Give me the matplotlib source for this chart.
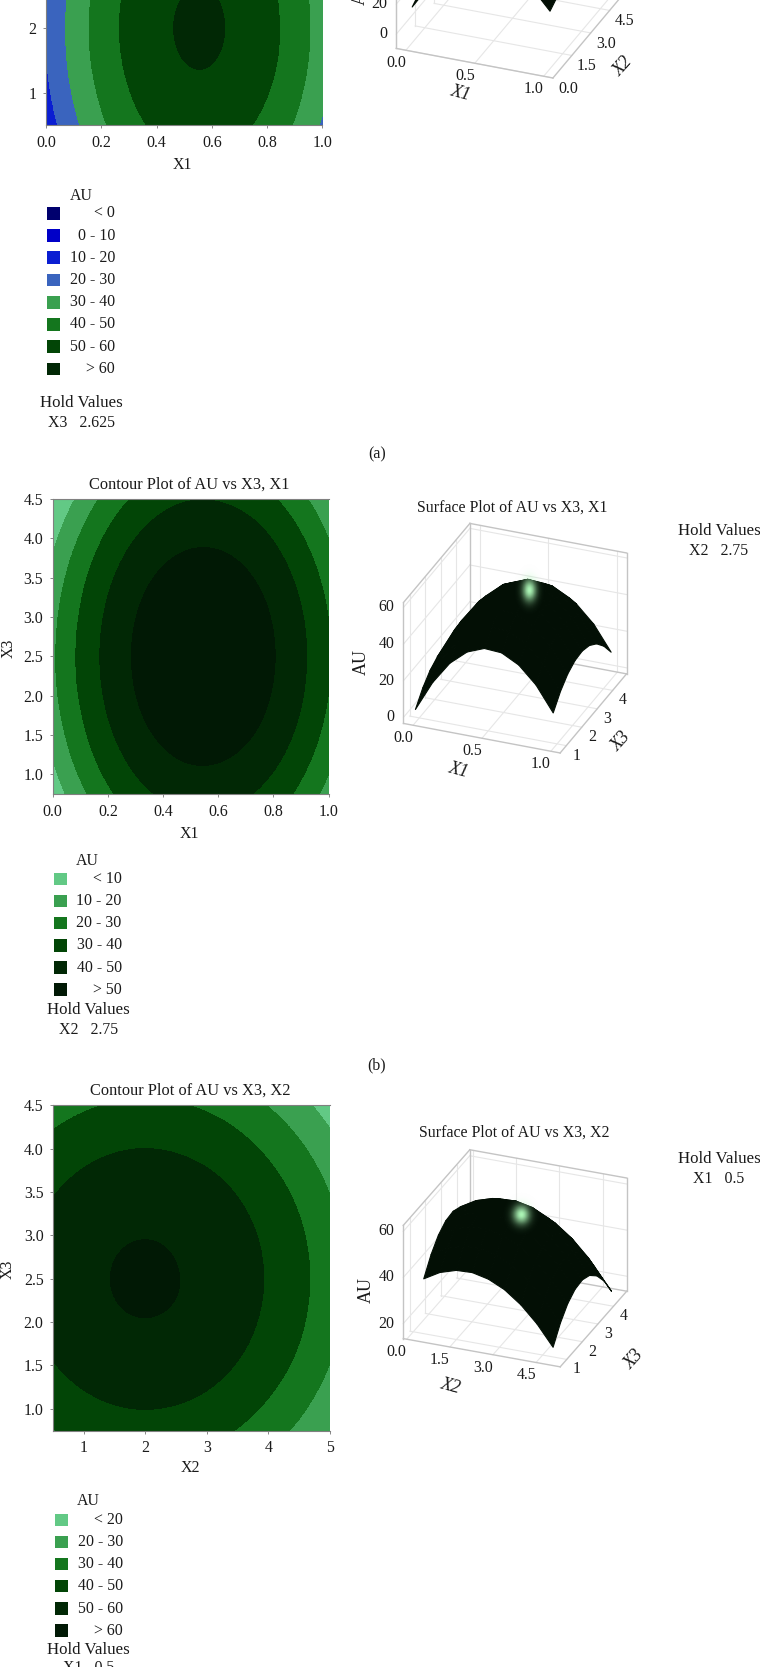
#!/usr/bin/python3

""" contour and surface plots of AU against X1, X2, X3 """

import numpy as np
import matplotlib
matplotlib.use("Agg")
import matplotlib.pyplot as plt
from matplotlib.colors import ListedColormap, BoundaryNorm
from matplotlib.patches import Rectangle
from mpl_toolkits.mplot3d import proj3d


WIDTH = 760.
HEIGHT = 1667.
SERIF = "Liberation Serif"
FONT_SIZE = 11.4
NAME_SIZE = 13
BOX_LINE = "#c4c4c4"
GRID_LINE = "#e6e6e6"
SURFACE_COLOR = "#030f05"

# values, rows go along the second factor
# first and last row and column lie just outside the plotted range
X1_VALUES = [-0.125, 0., 0.125, 0.25, 0.375, 0.5, 0.625, 0.75, 0.875, 1., 1.125]
X2_VALUES = [-0.06, 0.5, 1.06, 1.63, 2.19, 2.75, 3.31, 3.88, 4.44, 5., 5.56]
X3_VALUES = [0.28, 0.75, 1.22, 1.69, 2.16, 2.63, 3.09, 3.56, 4.03, 4.5, 4.97]

AU_X2_X1 = [
    [-11.6, 8.8, 25.1, 37.2, 45.2, 49.1, 48.8, 44.5, 36.0, 23.3, 6.6],
    [-6.1, 14.3, 30.6, 42.7, 50.7, 54.6, 54.3, 49.9, 41.4, 28.8, 12.1],
    [-2.3, 18.1, 34.3, 46.4, 54.4, 58.3, 58.1, 53.7, 45.2, 32.6, 15.8],
    [-0.3, 20.1, 36.4, 48.5, 56.5, 60.4, 60.1, 55.8, 47.3, 34.6, 17.9],
    [0.0, 20.4, 36.6, 48.8, 56.8, 60.7, 60.4, 56.0, 47.5, 34.9, 18.2],
    [-1.4, 18.9, 35.2, 47.3, 55.3, 59.2, 59.0, 54.6, 46.1, 33.5, 16.7],
    [-4.6, 15.8, 32.0, 44.2, 52.2, 56.0, 55.8, 51.4, 42.9, 30.3, 13.5],
    [-9.6, 10.8, 27.0, 39.2, 47.2, 51.0, 50.8, 46.4, 37.9, 25.3, 8.5],
    [-16.3, 4.1, 20.4, 32.5, 40.5, 44.4, 44.1, 39.8, 31.3, 18.6, 1.9],
    [-24.6, -4.3, 12.0, 24.1, 32.1, 36.0, 35.8, 31.4, 22.9, 10.3, -6.5],
    [-34.7, -14.4, 1.9, 14.0, 22.0, 25.9, 25.7, 21.3, 12.8, 0.2, -16.6],
]
AU_X3_X1 = [
    [-26.1, -5.3, 11.2, 23.5, 31.4, 35.1, 34.5, 29.7, 20.5, 7.0, -10.7],
    [-17.0, 3.8, 20.3, 32.6, 40.5, 44.2, 43.6, 38.7, 29.6, 16.1, -1.6],
    [-10.1, 10.7, 27.3, 39.5, 47.5, 51.2, 50.5, 45.7, 36.5, 23.1, 5.3],
    [-5.3, 15.5, 32.0, 44.3, 52.3, 55.9, 55.3, 50.5, 41.3, 27.9, 10.1],
    [-2.7, 18.2, 34.7, 46.9, 54.9, 58.6, 58.0, 53.1, 43.9, 30.5, 12.8],
    [-2.2, 18.6, 35.2, 47.4, 55.4, 59.1, 58.4, 53.6, 44.4, 31.0, 13.2],
    [-3.8, 17.0, 33.5, 45.8, 53.8, 57.4, 56.8, 52.0, 42.8, 29.4, 11.6],
    [-7.6, 13.2, 29.8, 42.0, 50.0, 53.7, 53.1, 48.2, 39.0, 25.6, 7.8],
    [-13.5, 7.3, 23.8, 36.1, 44.0, 47.7, 47.1, 42.3, 33.1, 19.6, 1.9],
    [-21.6, -0.8, 15.8, 28.0, 36.0, 39.7, 39.0, 34.2, 25.0, 11.6, -6.2],
    [-31.8, -11.0, 5.5, 17.8, 25.7, 29.4, 28.8, 23.9, 14.8, 1.3, -16.4],
]
AU_X3_X2 = [
    [24.7, 30.5, 34.4, 36.6, 36.9, 35.4, 32.0, 26.7, 19.7, 10.8, 0.2],
    [33.7, 39.5, 43.5, 45.7, 46.0, 44.4, 41.1, 35.8, 28.8, 19.9, 9.2],
    [40.7, 46.4, 50.4, 52.6, 52.9, 51.4, 48.0, 42.7, 35.7, 26.8, 16.2],
    [45.4, 51.2, 55.2, 57.4, 57.7, 56.1, 52.8, 47.5, 40.5, 31.6, 20.9],
    [48.1, 53.8, 57.8, 60.0, 60.3, 58.8, 55.4, 50.1, 43.1, 34.2, 23.6],
    [48.5, 54.3, 58.3, 60.5, 60.8, 59.2, 55.9, 50.6, 43.6, 34.7, 24.0],
    [46.9, 52.7, 56.7, 58.9, 59.2, 57.6, 54.3, 49.0, 42.0, 33.1, 22.4],
    [43.2, 48.9, 52.9, 55.1, 55.4, 53.9, 50.5, 45.2, 38.2, 29.3, 18.7],
    [37.2, 43.0, 47.0, 49.2, 49.5, 47.9, 44.6, 39.3, 32.3, 23.4, 12.7],
    [29.2, 35.0, 38.9, 41.1, 41.4, 39.9, 36.5, 31.2, 24.2, 15.4, 4.7],
    [19.0, 24.8, 28.7, 30.9, 31.2, 29.7, 26.3, 21.0, 14.0, 5.1, -5.5],
]

LEVELS_A = [-100, 0, 10, 20, 30, 40, 50, 60, 100]
LEVELS_B = [-100, 10, 20, 30, 40, 50, 100]
LEVELS_C = [-100, 20, 30, 40, 50, 60, 100]
COLORS_A = ["#00006e", "#0000c8", "#0a1ed2", "#3a64be", "#3aa050",
            "#14761e", "#024506", "#012805"]
COLORS_B = ["#62c985", "#3aa050", "#14761e", "#024506", "#012805", "#011905"]
COLORS_C = COLORS_B
NAMES_A = ["< 0", "0 - 10", "10 - 20", "20 - 30", "30 - 40", "40 - 50",
           "50 - 60", "> 60"]
NAMES_B = ["< 10", "10 - 20", "20 - 30", "30 - 40", "40 - 50", "> 50"]
NAMES_C = ["< 20", "20 - 30", "30 - 40", "40 - 50", "50 - 60", "> 60"]
LEGEND_Y_A = [213.3, 235.7, 257.7, 280., 302.3, 324.3, 346.7, 369.]
LEGEND_Y_B = [879., 900.9, 923., 945.3, 967.5, 989.7]
LEGEND_Y_C = [1519.9, 1542., 1564., 1586.1, 1608.6, 1630.7]

X1_TICKS = [0., 0.2, 0.4, 0.6, 0.8, 1.]
X1_TICKS_3D = [0., 0.5, 1.]
X2_TICKS = [1, 2, 3, 4, 5]
X2_TICKS_3D = [0., 1.5, 3., 4.5]
X3_TICKS = [1., 1.5, 2., 2.5, 3., 3.5, 4., 4.5]
X3_TICKS_3D = [1, 2, 3, 4]


def put_text(figure, x_pixel, y_pixel, text, **options):
    """ write text at a position given in pixels from the top left """
    options.setdefault("ha", "center")
    options.setdefault("va", "center")
    options.setdefault("fontsize", FONT_SIZE)
    options.setdefault("color", "#1a1a1a")
    figure.text(x_pixel / WIDTH, 1. - y_pixel / HEIGHT, text, **options)


def pixel_axes(figure, left, right, top, bottom, **options):
    """ add axes whose box is given in pixels from the top left """
    return figure.add_axes([left / WIDTH, 1. - bottom / HEIGHT,
                            (right - left) / WIDTH, (bottom - top) / HEIGHT],
                           **options)


def draw_contour(figure, box, x_values, y_values, values, levels, colors,
                 x_ticks, y_ticks, x_name, y_name):
    """ draw one filled contour panel """
    axes = pixel_axes(figure, *box)
    half_x = (x_values[-1] - x_values[0]) / (len(x_values) - 1) / 2.
    half_y = (y_values[-1] - y_values[0]) / (len(y_values) - 1) / 2.
    axes.imshow(values, origin="lower", aspect="auto",
                extent=(x_values[0] - half_x, x_values[-1] + half_x,
                        y_values[0] - half_y, y_values[-1] + half_y),
                cmap=ListedColormap(colors),
                norm=BoundaryNorm(levels, len(colors)),
                interpolation="catrom", interpolation_stage="data")
    axes.set_xlim(x_values[1], x_values[-2])
    axes.set_ylim(y_values[1], y_values[-2])
    axes.set_xticks(x_ticks)
    axes.set_yticks(y_ticks)
    if x_name == "X1":
        axes.set_xticklabels(["%.1f" % tick for tick in x_ticks])
    if y_name == "X3":
        axes.set_yticklabels(["%.1f" % tick for tick in y_ticks])
    axes.tick_params(length=2.5, width=0.7, color="#888888", pad=4.5,
                     labelsize=FONT_SIZE, labelcolor="#1a1a1a")
    axes.spines["right"].set_visible(False)
    for name in ("top", "left", "bottom"):
        axes.spines[name].set_color("#808080")
        axes.spines[name].set_linewidth(0.8)
    for label in axes.get_xticklabels() + axes.get_yticklabels():
        label.set_family(SERIF)
    return axes


def draw_legend(figure, left, text_right, y_list, names, colors):
    """ draw the colour squares and their ranges """
    for y_pixel, name, color in zip(y_list, names, colors):
        figure.add_artist(Rectangle(
            (left / WIDTH, 1. - (y_pixel + 6.3) / HEIGHT),
            12.8 / WIDTH, 12.6 / HEIGHT,
            transform=figure.transFigure, facecolor=color, edgecolor="none"))
        put_text(figure, text_right, y_pixel, name, ha="right", family=SERIF)


def tick_label(axes, point, offset, text, **options):
    """ label a 3d point, offset in pixels to the right and downwards """
    x_2d, y_2d, _ = proj3d.proj_transform(*point, axes.get_proj())
    axes.annotate(text, xy=(x_2d, y_2d),
                  xytext=(offset[0] * 0.72, -offset[1] * 0.72),
                  textcoords="offset points", annotation_clip=False,
                  family=SERIF, fontsize=FONT_SIZE, color="#1a1a1a",
                  va="center", **options)


def draw_surface(figure, centre, view, x_values, y_values, values, limits,
                 x_ticks, y_ticks, z_ticks, y_offset):
    """ draw one surface panel with its box, grid and tick labels """
    size, elevation, box_height = view
    left = centre[0] - 0.5135 * size
    top = centre[1] - (1. - 0.5135) * size
    axes = pixel_axes(figure, left, left + size, top, top + size,
                      projection="3d", proj_type="ortho",
                      computed_zorder=False)
    axes.set_box_aspect((168.6, 179.6, box_height))
    axes.view_init(elev=elevation, azim=-68.3)
    x_min, x_max, y_min, y_max, z_min, z_max = limits
    axes.set_xlim(x_min, x_max, view_margin=0)
    axes.set_ylim(y_min, y_max, view_margin=0)
    axes.set_zlim(z_min, z_max, view_margin=0)
    axes.set_axis_off()
    axes.patch.set_alpha(0.)

    grid = dict(color=GRID_LINE, linewidth=0.8, zorder=1)
    for tick in x_ticks:
        axes.plot([tick, tick], [y_min, y_max], [z_min, z_min], **grid)
        axes.plot([tick, tick], [y_max, y_max], [z_min, z_max], **grid)
    for tick in y_ticks:
        axes.plot([x_min, x_max], [tick, tick], [z_min, z_min], **grid)
        axes.plot([x_min, x_min], [tick, tick], [z_min, z_max], **grid)
    for tick in z_ticks:
        axes.plot([x_min, x_min], [y_min, y_max], [tick, tick], **grid)
        axes.plot([x_min, x_max], [y_max, y_max], [tick, tick], **grid)

    edge = dict(color=BOX_LINE, linewidth=1.0, zorder=2)
    axes.plot([x_min, x_max], [y_min, y_min], [z_min, z_min], **edge)
    axes.plot([x_max, x_max], [y_min, y_max], [z_min, z_min], **edge)
    axes.plot([x_min, x_min], [y_min, y_min], [z_min, z_max], **edge)
    axes.plot([x_min, x_min], [y_max, y_max], [z_min, z_max], **edge)
    axes.plot([x_max, x_max], [y_max, y_max], [z_min, z_max], **edge)
    axes.plot([x_min, x_min], [y_min, y_max], [z_max, z_max], **edge)
    axes.plot([x_min, x_max], [y_max, y_max], [z_max, z_max], **edge)
    axes.plot([x_max, x_max], [y_max, y_max], [z_min, z_min], **edge)
    axes.plot([x_min, x_max], [y_max, y_max], [z_min, z_min], **edge)

    x_grid, y_grid = np.meshgrid(x_values[1:-1], y_values[1:-1])
    heights = np.array(values)[1:-1, 1:-1]
    axes.plot_surface(x_grid, y_grid, heights, rstride=1, cstride=1,
                      color=SURFACE_COLOR, edgecolor=SURFACE_COLOR,
                      linewidth=0.8, shade=False, zorder=3)

    for tick in x_ticks:
        tick_label(axes, (tick, y_min, z_min), (-10, 13), "%.1f" % tick,
                   ha="center")
    for tick in y_ticks:
        text = "%g" % tick if y_offset[0] < 12 else "%.1f" % tick
        tick_label(axes, (x_max, tick, z_min), y_offset, text, ha="center")
    for tick in z_ticks:
        tick_label(axes, (x_min, y_min, tick), (-9, 0), "%d" % tick,
                   ha="right")
    return axes


def draw_glow(figure, x_pixel, y_pixel, x_width, y_width):
    """ soft light spot that sits on top of a surface """
    axes = pixel_axes(figure, x_pixel - 3. * x_width, x_pixel + 3. * x_width,
                      y_pixel - 3. * y_width, y_pixel + 3. * y_width)
    axes.set_axis_off()
    x_grid, y_grid = np.meshgrid(np.linspace(-3., 3., 60),
                                 np.linspace(-3., 3., 60))
    image = np.zeros((60, 60, 4))
    image[:, :, 0] = 0.68
    image[:, :, 1] = 0.97
    image[:, :, 2] = 0.72
    image[:, :, 3] = np.exp(-(x_grid ** 2 + y_grid ** 2) * 0.8)
    axes.imshow(image, aspect="auto", interpolation="bilinear")


def put_hold(figure, x_pixel, y_first, y_second, value):
    """ the two lines that give the held factor """
    put_text(figure, x_pixel, y_first, "Hold Values", fontsize=12.2)
    put_text(figure, x_pixel, y_second, value)


def main():
    """ build the three rows and save them """
    plt.rcParams["font.family"] = [SERIF, "DejaVu Serif"]
    figure = plt.figure(figsize=(WIDTH / 100., HEIGHT / 100.), dpi=100,
                        facecolor="white")

    # row (a), its top runs off the page
    draw_contour(figure, (46., 322.3, -165., 125.), X1_VALUES, X2_VALUES,
                 np.array(AU_X2_X1), LEVELS_A, COLORS_A, X1_TICKS, [1, 2],
                 "X1", "X2")
    draw_surface(figure, (507.8, -36.8), (273.8, 28.3, 137.3), X1_VALUES,
                 X2_VALUES, AU_X2_X1, (-0.07, 1.067, 0., 5.27, -9.5, 71.),
                 X1_TICKS_3D, X2_TICKS_3D, [0, 20], (15, 11))
    put_text(figure, 182.7, 165., "X1")
    put_text(figure, 460.5, 93.3, "X1", style="italic", rotation=-15,
             fontsize=NAME_SIZE)
    put_text(figure, 623., 66.7, "X2", style="italic", rotation=48,
             fontsize=NAME_SIZE)
    put_text(figure, 360., -8., "AU", rotation=90, fontsize=NAME_SIZE)
    put_text(figure, 81.4, 195.7, "AU")
    draw_legend(figure, 47., 114.9, LEGEND_Y_A, NAMES_A, COLORS_A)
    put_hold(figure, 81.4, 402.7, 423.3, "X3   2.625")
    put_text(figure, 377., 454., "(a)")

    # row (b)
    draw_contour(figure, (52.8, 328.6, 499., 794.), X1_VALUES, X3_VALUES,
                 np.array(AU_X3_X1), LEVELS_B, COLORS_B, X1_TICKS, X3_TICKS,
                 "X1", "X3")
    draw_surface(figure, (515., 638.2), (273.8, 28.3, 137.3), X1_VALUES,
                 X3_VALUES, AU_X3_X1, (-0.07, 1.067, 0.6, 4.9, -3.3, 62.7),
                 X1_TICKS_3D, X3_TICKS_3D, [0, 20, 40, 60], (10, 10))
    draw_glow(figure, 529.3, 590., 6., 10.)
    put_text(figure, 189.5, 485., "Contour Plot of AU vs X3, X1", fontsize=11.8)
    put_text(figure, 512.3, 507.7, "Surface Plot of AU vs X3, X1", fontsize=11.4)
    put_text(figure, 189., 833.9, "X1")
    put_text(figure, 8.7, 648.3, "X3", rotation=90)
    put_text(figure, 458.3, 770., "X1", style="italic", rotation=-15,
             fontsize=NAME_SIZE)
    put_text(figure, 621., 741.7, "X3", style="italic", rotation=48,
             fontsize=NAME_SIZE)
    put_text(figure, 361.7, 661.7, "AU", rotation=90, fontsize=NAME_SIZE)
    put_text(figure, 87.7, 861., "AU")
    draw_legend(figure, 53.8, 121.7, LEGEND_Y_B, NAMES_B, COLORS_B)
    put_hold(figure, 88.7, 1010., 1030.2, "X2   2.75")
    put_hold(figure, 719., 530.8, 551., "X2   2.75")
    put_text(figure, 377., 1065., "(b)")

    # row (c)
    draw_contour(figure, (53.3, 329.6, 1105.3, 1430.5), X2_VALUES, X3_VALUES,
                 np.array(AU_X3_X2), LEVELS_C, COLORS_C, X2_TICKS, X3_TICKS,
                 "X2", "X3")
    draw_surface(figure, (515., 1258.3), (269.4, 26.9, 126.7), X2_VALUES,
                 X3_VALUES, AU_X3_X2, (-0.12, 5.34, 0.58, 4.85, 13.5, 62.6),
                 X2_TICKS_3D, X3_TICKS_3D, [20, 40, 60], (10, 10))
    draw_glow(figure, 521.7, 1215., 7.5, 8.5)
    put_text(figure, 190.5, 1091., "Contour Plot of AU vs X3, X2", fontsize=11.8)
    put_text(figure, 513.8, 1133., "Surface Plot of AU vs X3, X2", fontsize=11.4)
    put_text(figure, 190., 1468., "X2")
    put_text(figure, 7.8, 1269.4, "X3", rotation=90)
    put_text(figure, 450.7, 1386.7, "X2", style="italic", rotation=-15,
             fontsize=NAME_SIZE)
    put_text(figure, 634.3, 1360., "X3", style="italic", rotation=48,
             fontsize=NAME_SIZE)
    put_text(figure, 366., 1290., "AU", rotation=90, fontsize=NAME_SIZE)
    put_text(figure, 88.7, 1501., "AU")
    draw_legend(figure, 54.8, 123., LEGEND_Y_C, NAMES_C, COLORS_C)
    put_hold(figure, 88.7, 1650., 1668., "X1   0.5")
    put_hold(figure, 719., 1159., 1179., "X1   0.5")

    figure.savefig("out.png", dpi=100)


if __name__ == "__main__":
    main()
